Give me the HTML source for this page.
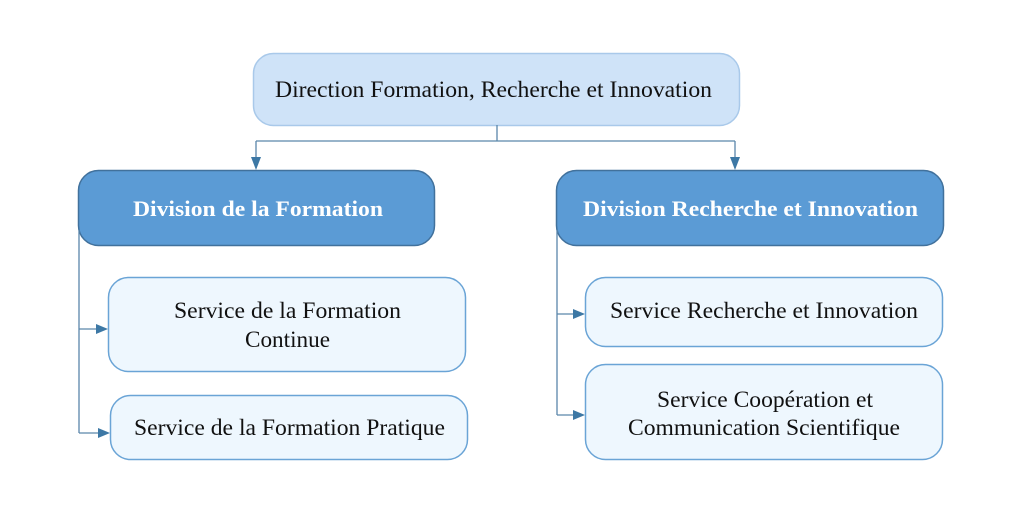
<!DOCTYPE html>
<html>
<head>
<meta charset="utf-8">
<style>
html,body{margin:0;padding:0;background:#fff;}
body{width:1024px;height:512px;overflow:hidden;}
svg{display:block;}
text{font-family:"Liberation Serif","Times New Roman",serif;}
</style>
</head>
<body>
<svg width="1024" height="512" viewBox="0 0 1024 512" xmlns="http://www.w3.org/2000/svg">
  <!-- Top box -->
  <rect x="253.5" y="53.5" width="486" height="72" rx="20" ry="20" fill="#cfe3f8" stroke="#a9c9ea" stroke-width="1.5"/>
  <text x="275" y="97" font-size="23" textLength="437" lengthAdjust="spacingAndGlyphs" fill="#111">Direction Formation, Recherche et Innovation</text>

  <!-- top connectors -->
  <g stroke="#5a86aa" stroke-width="1.3" fill="none">
    <line x1="497" y1="125" x2="497" y2="141"/>
    <line x1="256" y1="141" x2="735" y2="141"/>
    <line x1="256" y1="141" x2="256" y2="160"/>
    <line x1="735" y1="141" x2="735" y2="160"/>
  </g>
  <polygon points="251,157 261,157 256,170" fill="#3d78a5"/>
  <polygon points="730,157 740,157 735,170" fill="#3d78a5"/>

  <!-- Division boxes -->
  <rect x="78.5" y="170.5" width="356" height="75" rx="20" ry="20" fill="#5b9bd5" stroke="#41719c" stroke-width="1.5"/>
  <text x="133" y="216" font-size="22" font-weight="bold" textLength="250" lengthAdjust="spacingAndGlyphs" fill="#fff">Division de la Formation</text>

  <rect x="556.5" y="170.5" width="387" height="75" rx="20" ry="20" fill="#5b9bd5" stroke="#41719c" stroke-width="1.5"/>
  <text x="583" y="216" font-size="22" font-weight="bold" textLength="335" lengthAdjust="spacingAndGlyphs" fill="#fff">Division Recherche et Innovation</text>

  <!-- left connectors -->
  <g stroke="#5a86aa" stroke-width="1.3" fill="none">
    <line x1="79" y1="230" x2="79" y2="433"/>
    <line x1="79" y1="329" x2="98" y2="329"/>
    <line x1="79" y1="433" x2="100" y2="433"/>
    <line x1="557" y1="230" x2="557" y2="415"/>
    <line x1="557" y1="314" x2="575" y2="314"/>
    <line x1="557" y1="415" x2="575" y2="415"/>
  </g>
  <polygon points="96,324 96,334 108,329" fill="#3d78a5"/>
  <polygon points="98,428 98,438 110,433" fill="#3d78a5"/>
  <polygon points="573,309 573,319 585,314" fill="#3d78a5"/>
  <polygon points="573,410 573,420 585,415" fill="#3d78a5"/>

  <!-- Service boxes -->
  <rect x="108.5" y="277.5" width="357" height="94" rx="20" ry="20" fill="#eef7fe" stroke="#6aa4d6" stroke-width="1.5"/>
  <text x="174" y="318" font-size="23" textLength="227" lengthAdjust="spacingAndGlyphs" fill="#111">Service de la Formation</text>
  <text x="245" y="347" font-size="23" textLength="85" lengthAdjust="spacingAndGlyphs" fill="#111">Continue</text>

  <rect x="110.5" y="395.5" width="357" height="64" rx="20" ry="20" fill="#eef7fe" stroke="#6aa4d6" stroke-width="1.5"/>
  <text x="134" y="435" font-size="23" textLength="311" lengthAdjust="spacingAndGlyphs" fill="#111">Service de la Formation Pratique</text>

  <rect x="585.5" y="277.5" width="357" height="69" rx="20" ry="20" fill="#eef7fe" stroke="#6aa4d6" stroke-width="1.5"/>
  <text x="610" y="318" font-size="23" textLength="308" lengthAdjust="spacingAndGlyphs" fill="#111">Service Recherche et Innovation</text>

  <rect x="585.5" y="364.5" width="357" height="95" rx="20" ry="20" fill="#eef7fe" stroke="#6aa4d6" stroke-width="1.5"/>
  <text x="657" y="407" font-size="23" textLength="216" lengthAdjust="spacingAndGlyphs" fill="#111">Service Coopération et</text>
  <text x="628" y="435" font-size="23" textLength="272" lengthAdjust="spacingAndGlyphs" fill="#111">Communication Scientifique</text>
</svg>
</body>
</html>
